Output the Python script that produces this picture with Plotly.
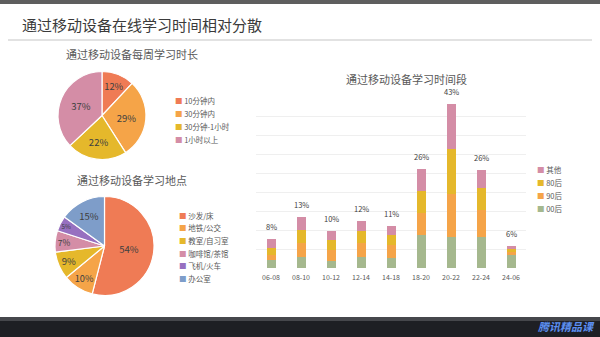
import plotly.graph_objects as go

W, H = 600, 337
FONT = "Noto Sans CJK SC"

# ---------------- data ----------------
title_main = "通过移动设备在线学习时间相对分散"

pie1_title = "通过移动设备每周学习时长"
pie1_labels = ["10分钟内", "30分钟内", "30分钟-1小时", "1小时以上"]
pie1_values = [12, 29, 22, 37]
pie1_colors = ["#EF7B55", "#F5A448", "#E5B82B", "#D48DA6"]

pie2_title = "通过移动设备学习地点"
pie2_labels = ["沙发/床", "地铁/公交", "教室/自习室", "咖啡馆/茶馆", "飞机/火车", "办公室"]
pie2_values = [54, 10, 9, 7, 5, 15]
pie2_colors = ["#EF7B55", "#F5A448", "#E5B82B", "#D48DA6", "#9770C0", "#7E9DC9"]

bar_title = "通过移动设备学习时间段"
periods = ["06-08", "08-10", "10-12", "12-14", "14-18", "18-20", "20-22", "22-24", "24-06"]
s_00 = [2.0, 3.0, 1.9, 3.0, 2.6, 8.7, 8.2, 8.2, 3.5]
s_90 = [1.3, 3.5, 2.8, 3.5, 3.4, 5.8, 11.3, 7.0, 0.7]
s_80 = [2.0, 3.4, 2.7, 3.2, 2.7, 5.8, 11.8, 5.8, 0.9]
s_other = [2.4, 3.5, 2.4, 2.7, 2.3, 5.7, 11.8, 4.9, 0.7]
totals = [8, 13, 10, 12, 11, 26, 43, 26, 6]
series_names = ["00后", "90后", "80后", "其他"]
series_colors = ["#A5B88E", "#F5A448", "#E5B82B", "#D48DA6"]


def px(x):
    return x / W


def py(y):
    return 1 - y / H


fig = go.Figure()

# Pie 1
fig.add_trace(go.Pie(
    labels=pie1_labels, values=pie1_values, sort=False, direction="clockwise",
    rotation=0, marker=dict(colors=pie1_colors, line=dict(color="white", width=1.2)),
    texttemplate="%{value}%", textposition="inside", insidetextorientation="horizontal",
    textfont=dict(family=FONT, size=9.5, color="#404040"),
    domain=dict(x=[px(58), px(146)], y=[py(159.5), py(71.5)]),
    showlegend=False, hoverinfo="label+percent",
))

# Pie 2
fig.add_trace(go.Pie(
    labels=pie2_labels, values=pie2_values, sort=False, direction="clockwise",
    rotation=0, marker=dict(colors=pie2_colors, line=dict(color="white", width=1.2)),
    texttemplate="%{value}%", textposition="inside", insidetextorientation="horizontal",
    textfont=dict(family=FONT, size=9.5, color="#404040"),
    domain=dict(x=[px(55), px(154)], y=[py(295.5), py(196.5)]),
    showlegend=False, hoverinfo="label+percent",
))

# Stacked bars
for name, vals, col in zip(series_names, [s_00, s_90, s_80, s_other], series_colors):
    fig.add_trace(go.Bar(
        x=periods, y=vals, name=name, marker=dict(color=col, line=dict(width=0)),
        width=0.3, showlegend=False, xaxis="x", yaxis="y",
    ))

annotations = []
# bar totals
stack_tops = [a + b + c + d for a, b, c, d in zip(s_00, s_90, s_80, s_other)]
for p, top, t in zip(periods, stack_tops, totals):
    annotations.append(dict(
        x=p, y=top, xref="x", yref="y", text=f"{t}%", showarrow=False,
        yanchor="bottom", yshift=5,
        font=dict(family=FONT, size=7.5, color="#404040"),
    ))

# titles
annotations.append(dict(x=px(20), y=py(24), xref="paper", yref="paper", text=title_main,
                        showarrow=False, xanchor="left", yanchor="middle",
                        font=dict(family=FONT, size=15, color="#3A3A3A")))
annotations.append(dict(x=px(132), y=py(54), xref="paper", yref="paper", text=pie1_title,
                        showarrow=False, xanchor="center", yanchor="middle",
                        font=dict(family=FONT, size=11, color="#595959")))
annotations.append(dict(x=px(132), y=py(180), xref="paper", yref="paper", text=pie2_title,
                        showarrow=False, xanchor="center", yanchor="middle",
                        font=dict(family=FONT, size=11, color="#595959")))
annotations.append(dict(x=px(406), y=py(79), xref="paper", yref="paper", text=bar_title,
                        showarrow=False, xanchor="center", yanchor="middle",
                        font=dict(family=FONT, size=11, color="#595959")))


def legend_items(labels, colors, x0, y0, dy):
    for i, (lab, col) in enumerate(zip(labels, colors)):
        annotations.append(dict(
            x=px(x0), y=py(y0 + i * dy), xref="paper", yref="paper",
            text=f'<span style="color:{col}">■</span> {lab}', showarrow=False,
            xanchor="left", yanchor="middle",
            font=dict(family=FONT, size=7.5, color="#595959"),
        ))


legend_items(pie1_labels, pie1_colors, 173, 100, 13.3)
legend_items(pie2_labels, pie2_colors, 177, 215, 12.7)
legend_items(series_names[::-1], series_colors[::-1], 535, 169, 13)

# logo
annotations.append(dict(x=px(566), y=py(326), xref="paper", yref="paper",
                        text="<b><i>腾讯精品课</i></b>", showarrow=False,
                        xanchor="center", yanchor="middle",
                        font=dict(family=FONT, size=11, color="#5B8EF0")))

shapes = [
    dict(type="rect", xref="paper", yref="paper", x0=0, x1=1, y0=py(4), y1=1,
         fillcolor="#5E5E5E", line=dict(width=0), layer="below"),
    dict(type="line", xref="paper", yref="paper", x0=px(8), x1=px(592), y0=py(40), y1=py(40),
         line=dict(color="#D9D9D9", width=1.5)),
    dict(type="rect", xref="paper", yref="paper", x0=0, x1=1, y0=0, y1=py(317),
         fillcolor="#1E1F24", line=dict(width=0), layer="below"),
    dict(type="rect", xref="paper", yref="paper", x0=0, x1=1, y0=py(321), y1=py(317),
         fillcolor="#46474C", line=dict(width=0), layer="below"),
]

fig.update_layout(
    width=W, height=H, margin=dict(l=0, r=0, t=0, b=0),
    paper_bgcolor="white", plot_bgcolor="white",
    barmode="stack",
    font=dict(family=FONT),
    xaxis=dict(type="category", domain=[px(256), px(526)], showgrid=False, showline=False,
               ticks="", ticklabelstandoff=4,
               tickfont=dict(family=FONT, size=7, color="#595959"), zeroline=False),
    yaxis=dict(domain=[py(268), py(97)], range=[0, 45], dtick=5, showticklabels=False,
               showgrid=True, gridcolor="#EFEFEF", gridwidth=1, zeroline=False),
    annotations=annotations, shapes=shapes,
)

fig.write_html("out.html")
